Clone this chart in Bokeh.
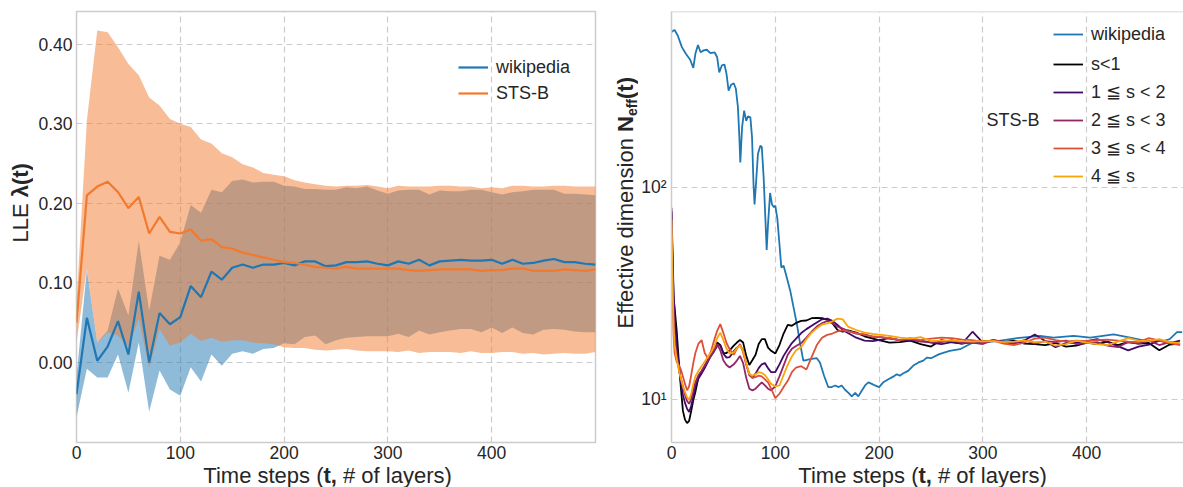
import math
from bokeh.plotting import figure
from bokeh.layouts import row, column
from bokeh.models import (FixedTicker, Legend, LegendItem, Label, Span,
                          NumeralTickFormatter, Range1d)
from bokeh.embed import file_html
from bokeh.resources import INLINE

FONT = "Liberation Sans"
TXT = "#262626"
GRID = "#cccccc"
BLUE = "#1f77b4"
ORANGE = "#f27a2e"
INFERNO = ["#000004", "#420a68", "#932667", "#dd513a", "#fca50a"]

# ---------------- left panel data (LLE) ----------------
layers = list(range(0, 501, 10))
wiki_mean = [-0.040, 0.056, 0.002, 0.020, 0.052, 0.010, 0.089, 0.000, 0.062, 0.048,
             0.057, 0.096, 0.082, 0.114, 0.104, 0.119, 0.123, 0.119, 0.123, 0.123,
             0.125, 0.122, 0.127, 0.127, 0.121, 0.122, 0.126, 0.126, 0.127, 0.124,
             0.122, 0.127, 0.124, 0.129, 0.122, 0.127, 0.128, 0.129, 0.128, 0.128,
             0.129, 0.124, 0.129, 0.124, 0.125, 0.128, 0.130, 0.126, 0.126, 0.124,
             0.123]
wiki_hi = [-0.018, 0.117, 0.025, 0.040, 0.093, 0.059, 0.153, 0.065, 0.134, 0.129,
           0.151, 0.198, 0.188, 0.217, 0.214, 0.228, 0.230, 0.226, 0.227, 0.227,
           0.222, 0.221, 0.218, 0.218, 0.217, 0.217, 0.220, 0.219, 0.221, 0.216,
           0.212, 0.216, 0.217, 0.217, 0.211, 0.216, 0.215, 0.215, 0.217, 0.217,
           0.214, 0.211, 0.214, 0.215, 0.217, 0.217, 0.217, 0.212, 0.212, 0.211,
           0.210]
wiki_lo = [-0.069, -0.008, -0.019, -0.019, 0.010, -0.038, 0.025, -0.062, -0.010, -0.034,
           -0.042, -0.006, -0.024, 0.010, -0.004, 0.011, 0.014, 0.011, 0.017, 0.018,
           0.024, 0.023, 0.032, 0.034, 0.023, 0.028, 0.031, 0.032, 0.033, 0.033,
           0.033, 0.036, 0.032, 0.040, 0.035, 0.038, 0.040, 0.042, 0.042, 0.038,
           0.044, 0.037, 0.044, 0.037, 0.035, 0.041, 0.042, 0.041, 0.039, 0.038,
           0.038]
sts_mean = [0.050, 0.210, 0.221, 0.227, 0.214, 0.194, 0.208, 0.162, 0.183, 0.164,
            0.162, 0.167, 0.153, 0.155, 0.145, 0.143, 0.138, 0.135, 0.132, 0.129,
            0.126, 0.125, 0.123, 0.120, 0.119, 0.118, 0.120, 0.118, 0.118, 0.118,
            0.118, 0.118, 0.116, 0.115, 0.116, 0.117, 0.117, 0.117, 0.117, 0.115,
            0.116, 0.116, 0.118, 0.118, 0.115, 0.115, 0.115, 0.117, 0.116, 0.115,
            0.117]
sts_hi = [0.075, 0.304, 0.417, 0.415, 0.396, 0.375, 0.361, 0.333, 0.323, 0.306,
          0.300, 0.296, 0.280, 0.275, 0.263, 0.258, 0.249, 0.245, 0.238, 0.236,
          0.234, 0.229, 0.226, 0.224, 0.222, 0.221, 0.222, 0.222, 0.223, 0.221,
          0.219, 0.222, 0.221, 0.221, 0.221, 0.222, 0.222, 0.221, 0.221, 0.219,
          0.220, 0.219, 0.222, 0.222, 0.221, 0.221, 0.222, 0.222, 0.221, 0.221,
          0.221]
sts_lo = [0.025, 0.118, 0.025, 0.038, 0.034, 0.020, 0.055, -0.007, 0.042, 0.021,
          0.025, 0.036, 0.027, 0.031, 0.026, 0.028, 0.028, 0.025, 0.024, 0.023,
          0.019, 0.018, 0.018, 0.016, 0.015, 0.016, 0.017, 0.015, 0.014, 0.014,
          0.014, 0.013, 0.015, 0.012, 0.013, 0.013, 0.013, 0.012, 0.014, 0.012,
          0.012, 0.013, 0.013, 0.011, 0.012, 0.010, 0.011, 0.012, 0.011, 0.011,
          0.013]
left_xticks = [0, 100, 200, 300, 400]
left_yticks = [0.0, 0.1, 0.2, 0.3, 0.4]

# ---------------- right panel data (effective dimension) ----------------
wiki_t = [0, 1, 3, 6, 10, 14, 18, 21, 23, 25.5,
          28, 31, 34, 37.5, 41.5, 44, 46, 48.5, 51, 53,
          55, 57.5, 60, 62, 64, 65.4, 66.3, 68, 70, 72,
          73.7, 76, 77.6, 79, 80, 81.4, 83.3, 85.6, 87, 88.8,
          90.4, 91.7, 93, 95, 96.8, 98.7, 100, 102, 104, 105.8,
          108, 111, 114.4, 117.6, 120.8, 124, 127, 130.4, 135, 140,
          143, 147, 151, 154.5, 157.7, 161, 164, 167, 170.5, 173.7,
          177, 180, 183, 186.5, 189.7, 193, 196, 200, 204, 209,
          214, 217, 220, 223, 228, 233, 238, 242.6, 246, 250,
          258, 268, 278, 284.8, 289.6, 297.6, 313.7, 333, 355, 368,
          387.5, 403.5, 426, 442, 458, 474, 480, 487, 492]
wiki_n = [540, 546, 553, 521, 459, 426, 400, 366, 427, 470,
          434, 443, 446, 430, 434, 411, 349, 376, 380, 343,
          286, 305, 310, 292, 239, 172, 131, 192, 230, 206,
          216, 214, 172, 104, 83, 104, 144, 157, 155, 111,
          72, 50.6, 67, 94, 83, 80.5, 82, 71, 54, 41.8,
          42.6, 37.6, 32.5, 27.1, 22.6, 18.2, 15.2, 15.3, 15.5, 15.6,
          14.9, 12.9, 11.4, 11.4, 11.6, 11.4, 11.6, 11.1, 10.7, 10.3,
          10.7, 10.3, 10.9, 11.6, 12.0, 11.8, 11.6, 11.4, 12.0, 12.4,
          12.8, 13.1, 12.9, 13.2, 13.6, 14.4, 14.9, 15.2, 15.7, 15.6,
          16.3, 16.9, 17.2, 17.9, 18.4, 18.5, 18.8, 19.4, 19.9, 19.5,
          19.9, 19.5, 20.2, 19.5, 18.8, 18.8, 19.2, 20.7, 20.7]

sts_t = [0, 1, 2, 3, 5, 7, 9, 11, 13, 15,
         17, 19, 21, 23, 26, 29, 32, 35, 38, 41,
         44, 47, 50, 53, 56, 60, 63, 66, 69, 72,
         75, 78, 81, 84, 87, 90, 93, 96, 100, 104,
         108, 112, 116, 120, 125, 130, 135, 140, 145, 150,
         155, 160, 165, 170, 178, 186, 194, 202, 210, 220,
         230, 240, 250, 260, 270, 280, 290, 300, 310, 320,
         330, 340, 350, 360, 370, 380, 390, 400, 410, 420,
         430, 440, 450, 460, 470, 480, 490]
sts_s0 = [77, 45, 30, 27, 21, 15.2, 11.4, 8.8, 8.0, 7.7,
          7.9, 8.8, 9.9, 10.8, 12.7, 13.4, 14.3, 15.3, 16.3, 17.2,
          18.5, 18.0, 16.5, 16.5, 17.0, 17.9, 18.5, 19.0, 18.5, 16.0,
          14.5, 15.3, 16.2, 18.2, 19.2, 19.2, 17.5, 16.9, 16.4, 18.0,
          20.4, 22.4, 22.2, 22.9, 23.4, 23.5, 24.1, 24.2, 24.1, 23.7,
          22.8, 21.2, 20.8, 21.1, 20.6, 19.8, 19.3, 18.9, 18.5, 18.6,
          18.9, 18.2, 17.7, 19.0, 18.6, 18.3, 18.6, 18.8, 18.9, 18.6,
          18.9, 18.3, 18.2, 18.0, 18.4, 17.7, 17.9, 18.5, 18.2, 18.7,
          18.0, 18.6, 18.3, 18.4, 17.0, 18.1, 18.3]
sts_s1 = [80, 50, 32, 25, 18, 14.5, 12, 10.5, 9.6, 9.0,
          8.7, 9.3, 10.3, 11.5, 12.5, 13.2, 14.0, 15.0, 16.0, 16.8,
          17.8, 18.0, 16.4, 15.7, 15.8, 16.8, 17.5, 17.9, 17.0, 14.6,
          13.0, 12.6, 13.2, 14.0, 14.6, 14.8, 14.0, 13.4, 13.4, 14.6,
          16.0, 17.2, 18.4, 19.3, 20.5, 21.4, 22.2, 23.0, 23.8, 24.0,
          23.4, 22.4, 21.2, 20.5, 19.5, 18.9, 18.8, 19.1, 19.4, 19.0,
          18.9, 18.9, 18.5, 18.2, 18.6, 18.3, 20.8, 18.5, 19.0, 18.6,
          18.3, 18.9, 20.2, 18.8, 17.6, 18.4, 18.5, 18.8, 19.2, 18.6,
          17.8, 17.0, 17.7, 18.1, 18.9, 18.4, 18.9]
sts_s2 = [75, 40, 25, 20, 16, 14, 12.5, 11.5, 10.5, 9.8,
          9.5, 10.0, 11.0, 12.0, 13.0, 13.6, 14.4, 15.2, 16.0, 17.0,
          18.2, 17.0, 15.2, 14.5, 14.1, 14.6, 15.2, 16.0, 14.8, 12.6,
          11.2, 11.0, 11.2, 11.6, 12.0, 11.6, 11.2, 11.0, 11.5, 12.8,
          14.4, 16.2, 17.3, 17.8, 18.4, 19.5, 20.8, 22.0, 22.8, 23.4,
          22.8, 22.0, 21.5, 21.0, 20.4, 20.2, 19.7, 19.6, 19.3, 19.0,
          19.2, 18.7, 18.6, 18.6, 19.0, 18.4, 18.5, 18.2, 19.0, 18.7,
          18.4, 19.0, 18.3, 18.8, 18.6, 18.9, 18.2, 18.4, 18.6, 17.9,
          17.6, 18.6, 18.3, 18.9, 18.0, 18.6, 18.2]
sts_s3 = [60, 30, 20, 16.5, 15, 14.5, 13.8, 12.8, 11.8, 11.0,
          11.5, 13.0, 14.8, 16.5, 18.3, 19.0, 16.5, 15.6, 16.8, 18.9,
          21.0, 22.6, 20.5, 18.4, 17.2, 16.2, 17.3, 18.2, 16.6, 14.6,
          13.2, 12.6, 12.7, 12.9, 12.8, 12.4, 12.0, 11.2, 10.1, 10.6,
          11.4, 12.2, 13.4, 14.1, 14.3, 13.8, 15.8, 18.0, 19.5, 20.1,
          20.4, 20.9, 21.1, 20.9, 20.5, 20.1, 19.8, 19.6, 19.4, 19.0,
          19.4, 19.0, 19.3, 19.5, 19.4, 19.1, 19.0, 18.6, 18.9, 18.3,
          18.0, 18.5, 19.3, 19.5, 19.0, 18.7, 18.9, 18.8, 19.0, 19.1,
          18.9, 18.7, 18.6, 19.4, 18.9, 18.4, 18.0]
sts_s4 = [70, 35, 22, 18, 15.5, 13.8, 12.5, 11.5, 10.8, 10.2,
          9.9, 10.6, 11.8, 12.8, 13.6, 14.3, 15.0, 15.8, 16.6, 17.6,
          19.4, 20.6, 19.0, 17.3, 16.4, 16.6, 17.4, 17.9, 16.9, 14.8,
          13.1, 12.9, 13.1, 13.4, 13.3, 13.0, 12.4, 11.8, 11.5, 11.6,
          13.0, 14.5, 15.9, 17.0, 17.6, 19.2, 20.6, 21.6, 22.5, 22.8,
          23.3, 24.0, 23.8, 22.0, 21.2, 20.6, 20.3, 20.1, 19.9, 19.5,
          19.3, 19.6, 18.8, 18.9, 18.9, 18.8, 18.7, 18.8, 18.8, 18.6,
          18.7, 18.9, 18.6, 18.7, 17.9, 18.2, 18.9, 18.5, 18.2, 18.0,
          18.7, 19.4, 18.9, 18.8, 19.2, 18.6, 18.4]
sts_labels = ["s<1", "1 \u2266 s < 2", "2 \u2266 s < 3", "3 \u2266 s < 4", "4 \u2266 s"]
right_xticks = [0, 100, 200, 300, 400]
right_yticks = [10, 100]


def style(p):
    p.background_fill_color = "white"
    p.border_fill_color = "white"
    for ax in p.axis:
        ax.major_tick_line_color = None
        ax.minor_tick_line_color = None
        ax.major_tick_out = 0
        ax.major_tick_in = 0
        ax.minor_tick_out = 0
        ax.minor_tick_in = 0
        ax.axis_line_color = None
        ax.major_label_text_font = FONT
        ax.major_label_text_font_size = "17.5px"
        ax.major_label_text_color = TXT
        ax.major_label_standoff = 4
    p.xaxis.major_label_standoff = 3
    for g in p.grid:
        g.grid_line_color = GRID
        g.grid_line_dash = "6 4"
        g.grid_line_width = 1.2
        g.minor_grid_line_color = None


def blank(w, h, transparent=False):
    f = figure(width=w, height=h, x_range=Range1d(0, 1), y_range=Range1d(0, 1),
               output_backend="svg", toolbar_location=None, min_border=0,
               x_axis_location=None, y_axis_location=None)
    f.min_border_left = 0
    f.min_border_right = 0
    f.min_border_top = 0
    f.min_border_bottom = 0
    f.outline_line_color = None
    if transparent:
        f.background_fill_color = None
        f.border_fill_color = None
    else:
        f.background_fill_color = "white"
        f.border_fill_color = "white"
    f.grid.visible = False
    return f


def lab(p, text, x, y, size="22px", bold=False, align="left", angle=0.0):
    p.add_layout(Label(x=x, y=y, x_units="screen", y_units="screen", text=text,
                       text_font=FONT, text_font_size=size, text_color=TXT,
                       text_font_style="bold" if bold else "normal",
                       text_align=align, text_baseline="alphabetic", angle=angle))


def legend(items, loc, spacing):
    lg = Legend(items=items, location=loc, orientation="vertical")
    lg.border_line_color = None
    lg.background_fill_alpha = 0
    lg.padding = 0
    lg.margin = 0
    lg.spacing = spacing
    lg.glyph_width = 30
    lg.glyph_height = 22
    lg.label_height = 22
    lg.label_standoff = 8
    lg.label_text_font = FONT
    lg.label_text_font_size = "18px"
    lg.label_text_color = TXT
    return lg


# ---------------- left figure ----------------
p1 = figure(width=567, height=466, x_range=Range1d(0, 500), y_range=Range1d(-0.1006, 0.441),
            output_backend="svg", toolbar_location=None,
            min_border_left=43, min_border_right=5, min_border_top=11, min_border_bottom=24)
p1.outline_line_color = GRID
p1.outline_line_width = 1.5
p1.varea(x=layers, y1=wiki_lo, y2=wiki_hi, fill_color=BLUE, fill_alpha=0.5)
p1.varea(x=layers, y1=sts_lo, y2=sts_hi, fill_color=ORANGE, fill_alpha=0.5)
lw = p1.line(layers, wiki_mean, line_color=BLUE, line_width=2.2)
ls = p1.line(layers, sts_mean, line_color=ORANGE, line_width=2.2)
style(p1)
p1.xaxis.ticker = FixedTicker(ticks=left_xticks)
p1.xgrid.ticker = FixedTicker(ticks=left_xticks)
p1.yaxis.ticker = FixedTicker(ticks=left_yticks)
p1.ygrid.ticker = FixedTicker(ticks=left_yticks)
p1.yaxis.formatter = NumeralTickFormatter(format="0.00")
p1.add_layout(legend([LegendItem(label="wikipedia", renderers=[lw]),
                      LegendItem(label="STS-B", renderers=[ls])], (382, 338), 4))

# ---------------- right figure ----------------
p2 = figure(width=545, height=466, x_range=Range1d(0, 493.3), y_range=Range1d(6.24, 676),
            y_axis_type="log", output_backend="svg", toolbar_location=None,
            min_border_left=33, min_border_right=0, min_border_top=11, min_border_bottom=24)
p2.outline_line_color = None
lwk = p2.line(wiki_t, wiki_n, line_color=BLUE, line_width=1.8)
sts_series = [sts_s0, sts_s1, sts_s2, sts_s3, sts_s4]
sts_r = []
for vals, col in zip(sts_series, INFERNO):
    sts_r.append(p2.line(sts_t, vals, line_color=col, line_width=1.8))
style(p2)
p2.yaxis.axis_line_color = GRID
p2.yaxis.axis_line_width = 1.5
p2.xaxis.axis_line_color = GRID
p2.xaxis.axis_line_width = 1.5
p2.add_layout(Span(location=676, dimension="width", line_color=GRID, line_width=1.5))
p2.xaxis.ticker = FixedTicker(ticks=right_xticks)
p2.xgrid.ticker = FixedTicker(ticks=right_xticks)
p2.yaxis.ticker = FixedTicker(ticks=right_yticks)
p2.ygrid.ticker = FixedTicker(ticks=right_yticks)
p2.yaxis.major_label_overrides = {10: "10\u00b9", 100: "10\u00b2"}
p2.yaxis.major_label_standoff = 5
p2.add_layout(legend([LegendItem(label="wikipedia", renderers=[lwk])], (382, 397), 6))
p2.add_layout(legend([LegendItem(label=lb, renderers=[r]) for lb, r in zip(sts_labels, sts_r)],
                     (382, 255), 6))
p2.add_layout(Label(x=368, y=323, x_units="screen", y_units="screen", text="STS-B",
                    text_font=FONT, text_font_size="18px", text_color=TXT,
                    text_align="right", text_baseline="middle"))

# ---------------- axis-label strips (mixed regular / bold text) ----------------
SH = 7  # label anchor sits this far above the visual baseline
yl1 = blank(33, 466)
lab(yl1, "LLE", 27 - SH, 466 - 226.9, align="right", angle=math.pi / 2)
lab(yl1, "\u03bb(t)", 27 - SH, 466 - 220.8, bold=True, angle=math.pi / 2)

yl2 = blank(38, 466)
lab(yl2, "Effective dimension", 32 - SH, 466 - 161.6, align="right", angle=math.pi / 2)
lab(yl2, "N", 32 - SH, 466 - 155.5, bold=True, angle=math.pi / 2)
lab(yl2, "eff", 36 - 5, 466 - 139.6, size="14px", bold=True, angle=math.pi / 2)
lab(yl2, "(t)", 32 - SH, 466 - 122.5, bold=True, angle=math.pi / 2)

# transparent strip that overlaps the bottom 8 px of the plots above it
strip = blank(1183, 29, transparent=True)
strip.margin = (-8, 0, 0, 0)
for x0 in (323, 918):
    lab(strip, "Time steps (", x0, 5 + SH, align="right")
    lab(strip, "t,", x0, 5 + SH, bold=True)
    lab(strip, "# of layers)", x0 + 19.5, 5 + SH)

layout = column(row(yl1, p1, yl2, p2), strip)
open("out.html", "w").write(file_html(layout, INLINE))
